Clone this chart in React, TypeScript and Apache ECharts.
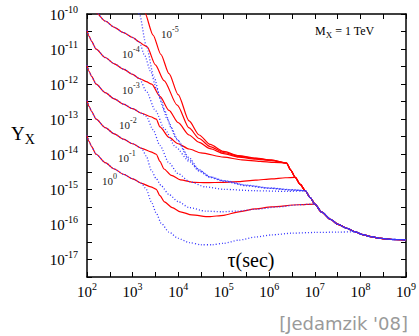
import React, { useEffect, useRef } from 'react';
import * as echarts from 'echarts';

// All values are log10 exponents: [log10(tau / sec), log10(Y_X)]
const X_RANGE = [2, 9];
const Y_RANGE = [-17.5, -10];
const FAMILY_LABELS = ['-5', '-4', '-3', '-2', '-1', '0'];

// common late-time curve shared by every family
const TAIL: [number, number][] = [[6.38,-14.25],[6.47,-14.45],[6.57,-14.66],[6.68,-14.86],[6.79,-15.04],[6.9,-15.24],[7.0,-15.42],[7.15,-15.65],[7.35,-15.86],[7.51,-16.0],[7.7,-16.11],[7.88,-16.21],[8.05,-16.29],[8.23,-16.35],[8.45,-16.4],[8.7,-16.43],[9.0,-16.44]];

const RED_E0: [number, number][] = [[2.0,-13.46],[2.05,-13.64],[2.1,-13.78],[2.2,-14.0],[2.4,-14.24],[2.6,-14.42],[2.8,-14.57],[3.0,-14.7],[3.2,-14.83],[3.4,-14.93],[3.52,-15.0],[3.6,-15.18],[3.7,-15.36],[3.87,-15.52],[4.05,-15.64],[4.3,-15.73],[4.68,-15.78],[5.0,-15.74],[5.33,-15.64],[5.7,-15.56],[6.05,-15.5],[6.64,-15.44]];
const BLUE_E0: [number, number][] = [[2.0,-13.46],[2.05,-13.64],[2.1,-13.78],[2.2,-14.0],[2.4,-14.24],[2.6,-14.42],[2.8,-14.57],[3.0,-14.7],[3.2,-14.83],[3.3,-15.0],[3.41,-15.35],[3.52,-15.68],[3.63,-15.97],[3.8,-16.22],[4.0,-16.4],[4.25,-16.52],[4.5,-16.58],[4.75,-16.58],[5.0,-16.54],[5.33,-16.45],[5.7,-16.36],[6.05,-16.3],[6.5,-16.25],[7.0,-16.23],[7.5,-16.22]];

const RED_E1: [number, number][] = [[2.0,-12.46],[2.05,-12.64],[2.1,-12.78],[2.2,-13.0],[2.4,-13.24],[2.6,-13.42],[2.8,-13.57],[3.0,-13.7],[3.2,-13.83],[3.4,-13.93],[3.52,-14.0],[3.6,-14.2],[3.69,-14.42],[3.85,-14.6],[4.05,-14.73],[4.35,-14.8],[4.6,-14.81],[5.0,-14.8],[5.33,-14.78],[5.7,-14.74],[6.05,-14.7],[6.35,-14.67]];
const BLUE_E1: [number, number][] = [[2.0,-12.46],[2.05,-12.64],[2.1,-12.78],[2.2,-13.0],[2.4,-13.24],[2.6,-13.42],[2.8,-13.57],[3.0,-13.7],[3.2,-13.83],[3.3,-14.05],[3.41,-14.45],[3.52,-14.7],[3.63,-14.9],[3.8,-15.15],[4.0,-15.35],[4.24,-15.52],[4.6,-15.62],[4.96,-15.64],[5.3,-15.62],[5.7,-15.57],[6.2,-15.5],[6.64,-15.44]];

const RED_E2: [number, number][] = [[2.0,-11.46],[2.05,-11.64],[2.1,-11.78],[2.2,-12.0],[2.4,-12.24],[2.6,-12.42],[2.8,-12.57],[3.0,-12.7],[3.2,-12.83],[3.4,-12.93],[3.52,-13.0],[3.6,-13.22],[3.8,-13.52],[4.0,-13.7],[4.24,-13.85],[4.5,-13.96],[5.0,-14.08],[5.4,-14.16],[5.8,-14.2],[6.1,-14.23]];
const BLUE_E2: [number, number][] = [[2.0,-11.46],[2.05,-11.64],[2.1,-11.78],[2.2,-12.0],[2.4,-12.24],[2.6,-12.42],[2.8,-12.57],[3.0,-12.7],[3.2,-12.83],[3.3,-12.92],[3.45,-13.3],[3.6,-13.75],[3.8,-14.25],[4.0,-14.55],[4.25,-14.78],[4.6,-14.93],[5.0,-15.0],[5.7,-15.04],[6.4,-15.06]];

const RED_E3: [number, number][] = [[2.0,-10.46],[2.05,-10.64],[2.1,-10.78],[2.2,-11.0],[2.4,-11.24],[2.6,-11.42],[2.8,-11.57],[3.0,-11.72],[3.15,-11.84],[3.3,-11.93],[3.42,-12.0],[3.6,-12.35],[3.8,-12.75],[4.0,-13.1],[4.24,-13.45],[4.46,-13.66],[4.7,-13.84],[5.0,-13.98],[5.33,-14.08],[5.7,-14.14],[6.05,-14.18]];
const BLUE_E3: [number, number][] = [[2.0,-10.46],[2.05,-10.64],[2.1,-10.78],[2.2,-11.0],[2.4,-11.24],[2.6,-11.42],[2.8,-11.57],[3.0,-11.72],[3.15,-11.84],[3.3,-12.2],[3.5,-12.75],[3.7,-13.28],[3.95,-13.8],[4.24,-14.2],[4.46,-14.48],[4.7,-14.66],[5.0,-14.77],[5.5,-14.9],[6.0,-14.97],[6.5,-15.02]];

const RED_E4: [number, number][] = [[2.0,-9.4],[2.1,-9.72],[2.2,-9.96],[2.4,-10.2],[2.6,-10.38],[2.8,-10.53],[3.0,-10.67],[3.15,-10.8],[3.25,-10.89],[3.32,-10.94],[3.5,-11.45],[3.69,-11.9],[3.98,-12.6],[4.24,-13.25],[4.46,-13.55],[4.7,-13.78],[5.0,-13.95],[5.33,-14.06],[5.7,-14.12],[6.05,-14.17]];
const BLUE_E4: [number, number][] = [[2.0,-9.4],[2.1,-9.72],[2.2,-9.96],[2.4,-10.2],[2.6,-10.38],[2.8,-10.53],[3.0,-10.67],[3.15,-10.8],[3.26,-11.17],[3.4,-11.65],[3.52,-12.12],[3.7,-12.75],[3.85,-13.25],[4.0,-13.62],[4.24,-14.1],[4.46,-14.44],[4.7,-14.64],[5.0,-14.75],[5.5,-14.88],[6.0,-14.96],[6.5,-15.01]];

const RED_E5: [number, number][] = [[3.0,-9.1],[3.26,-9.94],[3.45,-10.6],[3.62,-11.15],[3.8,-11.7],[4.0,-12.3],[4.24,-13.05],[4.46,-13.45],[4.7,-13.72],[5.0,-13.92],[5.33,-14.04],[5.7,-14.11],[6.05,-14.16]];
const BLUE_E5: [number, number][] = [[3.0,-9.4],[3.15,-10.0],[3.3,-10.9],[3.47,-11.8],[3.62,-12.45],[3.76,-13.0],[3.96,-13.55],[4.24,-14.15],[4.46,-14.46],[4.7,-14.65],[5.0,-14.76],[5.5,-14.89],[6.0,-14.97],[6.5,-15.02]];

// where each curve merges into the common tail (log10 tau)
const RED_JOIN = [6.38, 6.38, 6.38, 6.38, 6.57, 7.0];
const BLUE_JOIN = [6.79, 6.79, 6.79, 6.79, 7.0, 7.88];

const SERIF = '"Liberation Serif", "DejaVu Serif", serif';

function withTail(pts: [number, number][], join: number): [number, number][] {
  return [...pts, ...TAIL.filter((p) => p[0] >= join - 1e-9)];
}

const isInt = (v: number) => Math.abs(v - Math.round(v)) < 1e-6;

export default function App() {
  const ref = useRef<HTMLDivElement>(null);
  useEffect(() => {
    if (!ref.current) return;
    const chart = echarts.init(ref.current, undefined, { renderer: 'svg' });
    const reds = [RED_E5, RED_E4, RED_E3, RED_E2, RED_E1, RED_E0];
    const blues = [BLUE_E5, BLUE_E4, BLUE_E3, BLUE_E2, BLUE_E1, BLUE_E0];
    const series: any[] = [];
    reds.forEach((d, i) => {
      series.push({
        type: 'line', name: 'red' + i, data: withTail(d, RED_JOIN[i]), showSymbol: false,
        smooth: 0.25, smoothMonotone: 'x', clip: true,
        lineStyle: { color: '#ff0000', width: 1.2 }, z: 2,
      });
    });
    blues.forEach((d, i) => {
      series.push({
        type: 'line', name: 'blue' + i, data: withTail(d, BLUE_JOIN[i]), showSymbol: false,
        smooth: 0.25, smoothMonotone: 'x', clip: true,
        lineStyle: { color: '#3535ff', width: 1.3, type: [1, 2] }, z: 3,
      });
    });
    const richTick = {
      b: { fontFamily: SERIF, fontSize: 15, color: '#000', lineHeight: 16, verticalAlign: 'bottom' },
      s: { fontFamily: SERIF, fontSize: 10, color: '#000', lineHeight: 10, verticalAlign: 'bottom', padding: [0, 0, 8, 0] },
    };
    const fmt = (v: number) => (isInt(v) ? `{b|10}{s|${Math.round(v)}}` : '');
    const axisCommon = {
      type: 'value', interval: 0.5,
      splitLine: { show: false },
      axisLine: { show: true, onZero: false, lineStyle: { color: '#000', width: 1.5 } },
      axisTick: { show: true, inside: true, length: 5, lineStyle: { color: '#000', width: 1 } },
    };
    const famLabelPos = [[161, 33], [122, 53], [122, 89], [119, 124], [118, 157], [102, 180]];
    const graphic: any[] = FAMILY_LABELS.map((e, i) => ({
      type: 'text', x: famLabelPos[i][0], y: famLabelPos[i][1],
      style: {
        text: `{b|10}{s|${e}}`, verticalAlign: 'middle',
        rich: {
          b: { fontFamily: SERIF, fontSize: 11, fill: '#222', lineHeight: 12, verticalAlign: 'bottom' },
          s: { fontFamily: SERIF, fontSize: 8, fill: '#222', lineHeight: 8, verticalAlign: 'bottom', padding: [0, 0, 6, 0] },
        },
      },
    }));
    graphic.push({
      type: 'text', x: 11, y: 124,
      style: {
        text: '{a|Y}{b|X}',
        rich: {
          a: { fontFamily: SERIF, fontSize: 19, fill: '#000', lineHeight: 20, verticalAlign: 'top' },
          b: { fontFamily: SERIF, fontSize: 14, fill: '#000', lineHeight: 14, verticalAlign: 'top', padding: [8, 0, 0, 0] },
        },
      },
    });
    graphic.push({
      type: 'text', x: 251, y: 260,
      style: { text: 'τ(sec)', fontFamily: SERIF, fontSize: 20, fill: '#000', align: 'center', verticalAlign: 'middle' },
    });
    graphic.push({
      type: 'text', x: 315, y: 25,
      style: {
        text: '{a|M}{b|X}{a| = 1 TeV}',
        rich: {
          a: { fontFamily: SERIF, fontSize: 12, fill: '#000', lineHeight: 12, verticalAlign: 'top' },
          b: { fontFamily: SERIF, fontSize: 9, fill: '#000', lineHeight: 9, verticalAlign: 'top', padding: [5, 0, 0, 0] },
        },
      },
    });
    graphic.push({
      type: 'text', x: 408, y: 314,
      style: { text: "[Jedamzik '08]", fontFamily: '"DejaVu Sans", sans-serif', fontSize: 18, fill: '#9a9a9a', align: 'right', verticalAlign: 'top' },
    });

    chart.setOption({
      animation: false,
      backgroundColor: '#ffffff',
      grid: { left: 87, right: 11, top: 14, bottom: 59, containLabel: false },
      xAxis: [
        { ...axisCommon, min: X_RANGE[0], max: X_RANGE[1], position: 'bottom',
          axisLabel: { show: true, interval: 0, margin: 6, formatter: fmt, rich: richTick, showMinLabel: true, showMaxLabel: true } },
        { ...axisCommon, min: X_RANGE[0], max: X_RANGE[1], position: 'top', axisLabel: { show: false } },
      ],
      yAxis: [
        { ...axisCommon, min: Y_RANGE[0], max: Y_RANGE[1], position: 'left',
          axisLabel: { show: true, interval: 0, margin: 9, formatter: fmt, rich: richTick, showMinLabel: true, showMaxLabel: true } },
        { ...axisCommon, min: Y_RANGE[0], max: Y_RANGE[1], position: 'right', axisLabel: { show: false } },
      ],
      series,
      graphic,
    });
    return () => chart.dispose();
  }, []);
  return <div ref={ref} style={{ position: 'absolute', left: 0, top: 0, width: 419, height: 336, background: '#fff' }} />;
}
